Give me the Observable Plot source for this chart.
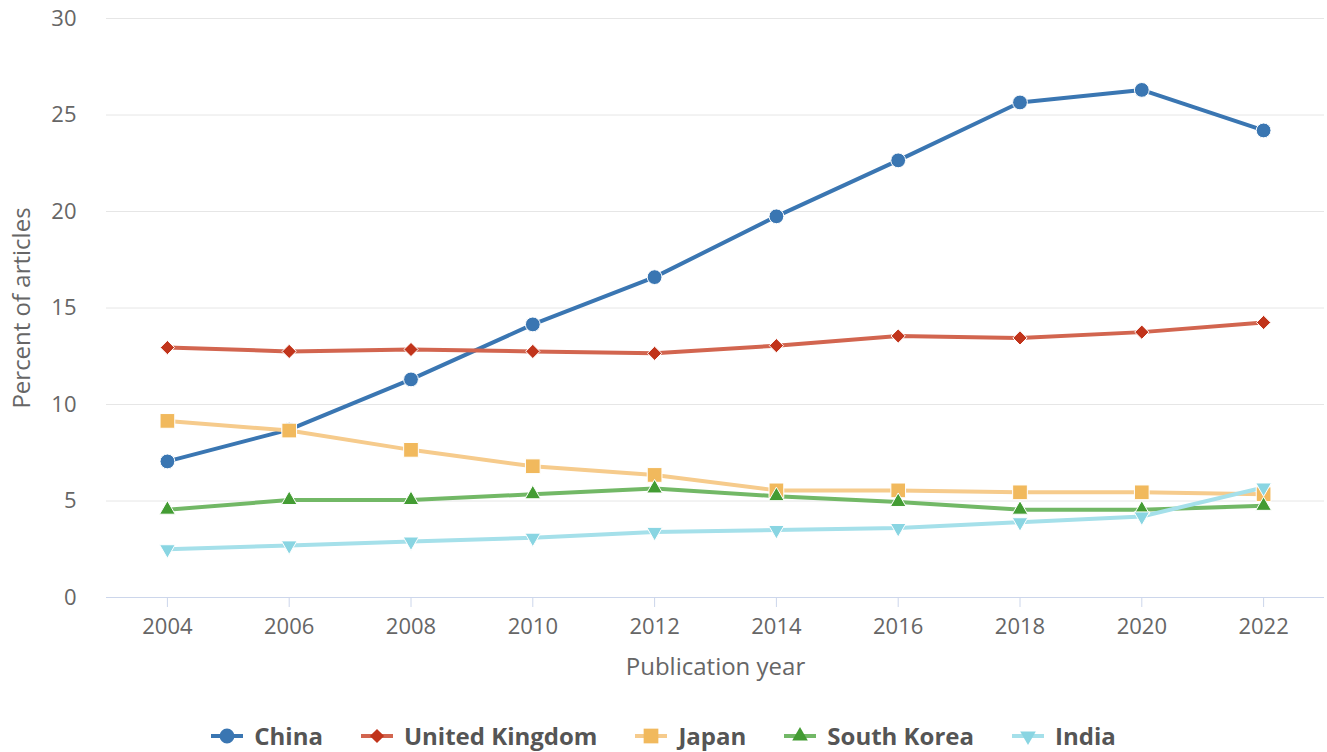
<!DOCTYPE html>
<html>
<head>
<meta charset="utf-8">
<script src="https://cdn.jsdelivr.net/npm/d3@7"></script>
<script src="https://cdn.jsdelivr.net/npm/@observablehq/plot@0.6"></script>
<style>
  html, body { margin: 0; padding: 0; background: #fff; }
  body { width: 1327px; height: 752px; overflow: hidden; font-family: "Open Sans", sans-serif; }
  #legend { display: flex; justify-content: center; align-items: center; margin-top: 20px; padding-left: 0px; }
  .item { display: flex; align-items: center; margin: 0 19px; font-weight: 700; font-size: 24px; color: #555; line-height: 32px; }
  .item svg { margin-right: 11px; }
</style>
</head>
<body>
<div id="chart"></div>
<div id="legend"></div>
<script>
const years = [2004, 2006, 2008, 2010, 2012, 2014, 2016, 2018, 2020, 2022];
const china = [7.05, 8.7, 11.3, 14.15, 16.6, 19.75, 22.65, 25.65, 26.3, 24.2];
const unitedKingdom = [12.95, 12.75, 12.85, 12.75, 12.65, 13.05, 13.55, 13.45, 13.75, 14.25];
const japan = [9.15, 8.65, 7.65, 6.8, 6.35, 5.55, 5.55, 5.45, 5.45, 5.35];
const southKorea = [4.55, 5.05, 5.05, 5.35, 5.65, 5.25, 4.95, 4.55, 4.55, 4.75];
const india = [2.5, 2.7, 2.9, 3.1, 3.4, 3.5, 3.6, 3.9, 4.2, 5.7];
const yTicks = [0, 5, 10, 15, 20, 25, 30];

const series = [
  {name: "China", values: china, line: "#3a76b2", marker: "#3a76b2", symbol: "circle", r: 7.4, rotate: 0},
  {name: "United Kingdom", values: unitedKingdom, line: "#d2654f", marker: "#c1341b", symbol: "diamond2", r: 6.4, rotate: 0},
  {name: "Japan", values: japan, line: "#f6cb8c", marker: "#f1b95d", symbol: "square", r: 8.3, rotate: 0},
  {name: "South Korea", values: southKorea, line: "#72b866", marker: "#439c33", symbol: "triangle", r: 5.8, rotate: 0},
  {name: "India", values: india, line: "#a5e0ea", marker: "#89d5e2", symbol: "triangle", r: 5.8, rotate: 180}
];

const marks = [
  Plot.gridY(yTicks, {stroke: "#e6e6e6", strokeOpacity: 1, strokeWidth: 1}),
  Plot.ruleY([0], {stroke: "#ccd6eb", strokeWidth: 1}),
  Plot.axisY(yTicks, {tickSize: 0, tickPadding: 30, fill: "#666", fontSize: 22, label: null}),
  Plot.axisX(years, {tickSize: 10, tickPadding: 11, stroke: "#ccd6eb", strokeOpacity: 1, fill: "#666", fontSize: 22, tickFormat: d => String(d), label: null}),
  Plot.text(["Percent of articles"], {text: d => d, frameAnchor: "left", textAnchor: "middle", dx: -84, rotate: -90, fontSize: 24, fill: "#666"}),
  Plot.text(["Publication year"], {text: d => d, frameAnchor: "bottom", lineAnchor: "middle", dy: 70, fontSize: 24, fill: "#666"})
];

for (const s of series) {
  const rows = years.map((year, i) => ({year, value: s.values[i]}));
  marks.push(Plot.line(rows, {x: "year", y: "value", stroke: s.line, strokeWidth: 4}));
}
for (const s of series) {
  const rows = years.map((year, i) => ({year, value: s.values[i]}));
  marks.push(Plot.dot(rows, {x: "year", y: "value", symbol: s.symbol, r: s.r, fill: s.marker, stroke: "#fff", strokeWidth: 1, rotate: s.rotate}));
}

const chart = Plot.plot({
  width: 1327,
  height: 700,
  marginTop: 18,
  marginLeft: 106,
  marginRight: 3,
  marginBottom: 103,
  x: {domain: [2003, 2023]},
  y: {domain: [0, 30]},
  style: {fontFamily: "'Open Sans', sans-serif", fontSize: "22px", color: "#666", background: "#fff"},
  marks
});
document.getElementById("chart").appendChild(chart);

// Legend
const legend = d3.select("#legend");
const symMap = {circle: d3.symbolCircle, diamond2: d3.symbolDiamond2, square: d3.symbolSquare, triangle: d3.symbolTriangle};
for (const s of series) {
  const item = legend.append("div").attr("class", "item");
  const svg = item.append("svg").attr("width", 32).attr("height", 20);
  svg.append("line").attr("x1", 0).attr("x2", 32).attr("y1", 10).attr("y2", 10).attr("stroke", s.line).attr("stroke-width", 4);
  svg.append("path")
    .attr("d", d3.symbol(symMap[s.symbol], s.r * s.r * Math.PI)())
    .attr("transform", `translate(16,10) rotate(${s.rotate})`)
    .attr("fill", s.marker);
  item.append("span").text(s.name);
}
</script>
</body>
</html>
